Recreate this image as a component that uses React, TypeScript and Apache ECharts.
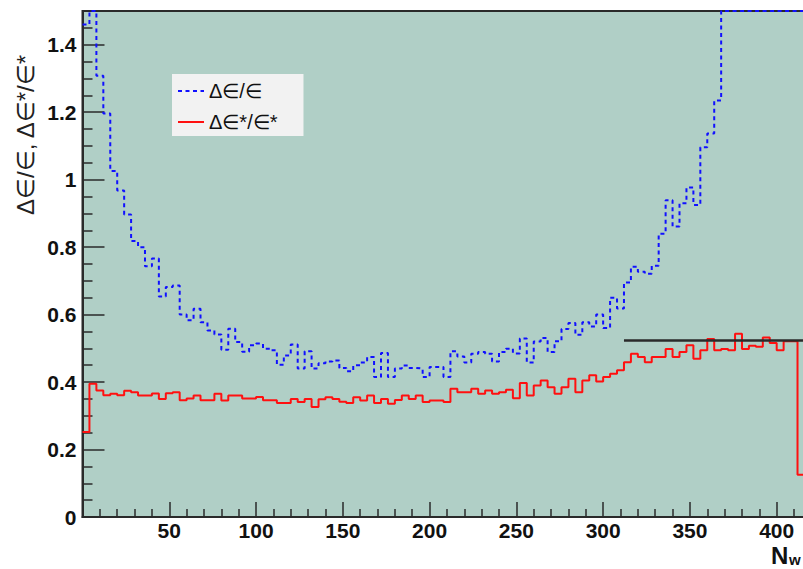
import React, { useEffect, useRef } from 'react';
import * as echarts from 'echarts';

// Histogram bins: width 4 in N_w, starting at 0 (104 bins, 0..416)
const binWidth = 4;

// Δϵ/ϵ (blue dashed) — values at or above 1.5 are clipped at the frame top
const blueValues = [
  1.46, 1.5, 1.308, 1.196, 1.026, 0.968, 0.897, 0.818, 0.8, 0.743,
  0.766, 0.654, 0.682, 0.686, 0.6, 0.583, 0.617, 0.577, 0.553, 0.541,
  0.496, 0.558, 0.519, 0.49, 0.509, 0.514, 0.499, 0.494, 0.451, 0.479,
  0.511, 0.44, 0.491, 0.44, 0.456, 0.461, 0.464, 0.442, 0.432, 0.45,
  0.458, 0.474, 0.415, 0.486, 0.415, 0.44, 0.449, 0.442, 0.44, 0.415,
  0.445, 0.445, 0.415, 0.491, 0.476, 0.458, 0.484, 0.489, 0.484, 0.461,
  0.489, 0.499, 0.485, 0.529, 0.458, 0.52, 0.531, 0.489, 0.521, 0.557,
  0.575, 0.54, 0.577, 0.565, 0.6, 0.56, 0.65, 0.618, 0.695, 0.742,
  0.727, 0.721, 0.745, 0.84, 0.939, 0.861, 0.93, 0.977, 0.925, 1.096,
  1.137, 1.235, 1.5, 1.5, 1.5, 1.5, 1.5, 1.5, 1.5, 1.5,
  1.5, 1.5, 1.5, 1.5,
];

// Δϵ*/ϵ* (red solid)
const redValues = [
  0.252, 0.395, 0.375, 0.361, 0.365, 0.361, 0.374, 0.37, 0.36, 0.36,
  0.366, 0.35, 0.367, 0.37, 0.346, 0.351, 0.36, 0.346, 0.346, 0.365,
  0.345, 0.36, 0.36, 0.351, 0.351, 0.356, 0.346, 0.346, 0.338, 0.338,
  0.35, 0.341, 0.35, 0.326, 0.349, 0.355, 0.35, 0.342, 0.338, 0.355,
  0.345, 0.36, 0.338, 0.35, 0.336, 0.347, 0.36, 0.35, 0.36, 0.341,
  0.345, 0.345, 0.341, 0.38, 0.37, 0.37, 0.38, 0.365, 0.375, 0.365,
  0.37, 0.377, 0.352, 0.397, 0.36, 0.39, 0.405, 0.385, 0.365, 0.385,
  0.41, 0.37, 0.405, 0.42, 0.402, 0.415, 0.425, 0.435, 0.459, 0.484,
  0.474, 0.459, 0.474, 0.474, 0.498, 0.474, 0.489, 0.509, 0.469, 0.494,
  0.528, 0.494, 0.498, 0.494, 0.543, 0.498, 0.508, 0.505, 0.532, 0.516,
  0.494, 0.521, 0.521, 0.125,
];

// Black reference line
const refLineX = [312, 416];
const refLineY = 0.523;

const xTickLabels = [50, 100, 150, 200, 250, 300, 350, 400];
const yTickLabels = [0, 0.2, 0.4, 0.6, 0.8, 1, 1.2, 1.4];

const seriesNames = ['Δ∈/∈', 'Δ∈*/∈*'];

function toSteps(values: number[]): number[][] {
  const pts = values.map((v, i) => [i * binWidth, v]);
  pts.push([values.length * binWidth, values[values.length - 1]]);
  return pts;
}

const xMinor: number[] = [];
for (let k = 1; k <= 41; k++) if (k % 5 !== 0) xMinor.push(k * 10);
const yMinor: number[] = [];
for (let k = 1; k <= 29; k++) if (k % 4 !== 0) yMinor.push(Math.round(k * 5) / 100);

const FONT = '"Liberation Sans", Arial, Helvetica, sans-serif';
const AX = '#2a2a2a';

export default function App() {
  const ref = useRef<HTMLDivElement>(null);
  useEffect(() => {
    if (!ref.current) return;
    const chart = echarts.init(ref.current, undefined, { renderer: 'svg' });
    const option: any = {
      animation: false,
      grid: {
        left: 82.5,
        top: 11,
        bottom: 52,
        right: 3.6,
        show: true,
        backgroundColor: '#b0cfc6',
        borderColor: AX,
        borderWidth: 2,
      },
      legend: {
        data: seriesNames,
        left: 172,
        top: 74,
        orient: 'vertical',
        backgroundColor: '#f2f2f2',
        padding: [6, 26, 3, 5],
        itemWidth: 26,
        itemHeight: 14,
        itemGap: 9,
        itemStyle: { opacity: 0 },
        textStyle: { fontSize: 20, fontFamily: FONT, color: '#111', lineHeight: 22 },
      },
      xAxis: [
        {
          type: 'value',
          min: 0,
          max: 420,
          axisLine: { show: true, lineStyle: { color: AX, width: 2 } },
          axisTick: {
            show: true,
            inside: true,
            length: 15,
            customValues: xTickLabels,
            lineStyle: { color: AX, width: 1.5 },
          },
          axisLabel: {
            customValues: xTickLabels,
            fontSize: 21,
            fontWeight: 'bold',
            fontFamily: FONT,
            color: '#111',
            margin: 3,
          },
          splitLine: { show: false },
        },
        {
          type: 'value',
          min: 0,
          max: 420,
          position: 'bottom',
          axisLine: { show: false },
          axisTick: {
            show: true,
            inside: true,
            length: 8,
            customValues: xMinor,
            lineStyle: { color: AX, width: 1.5 },
          },
          axisLabel: { show: false },
          splitLine: { show: false },
        },
      ],
      yAxis: [
        {
          type: 'value',
          min: 0,
          max: 1.5,
          position: 'left',
          axisLine: { show: true, lineStyle: { color: AX, width: 2 } },
          axisTick: {
            show: true,
            inside: true,
            length: 22,
            customValues: yTickLabels,
            lineStyle: { color: AX, width: 1.5 },
          },
          axisLabel: {
            customValues: yTickLabels,
            fontSize: 21,
            fontWeight: 'bold',
            fontFamily: FONT,
            color: '#111',
            margin: 6,
          },
          splitLine: { show: false },
        },
        {
          type: 'value',
          min: 0,
          max: 1.5,
          position: 'left',
          axisLine: { show: false },
          axisTick: {
            show: true,
            inside: true,
            length: 10,
            customValues: yMinor,
            lineStyle: { color: AX, width: 1.5 },
          },
          axisLabel: { show: false },
          splitLine: { show: false },
        },
      ],
      series: [
        {
          name: seriesNames[0],
          type: 'line',
          step: 'end',
          data: toSteps(blueValues),
          symbol: 'none',
          lineStyle: { color: '#1010ff', width: 2, type: [4, 3.5] },
          itemStyle: { color: '#1010ff' },
        },
        {
          name: seriesNames[1],
          type: 'line',
          step: 'end',
          data: toSteps(redValues),
          symbol: 'none',
          lineStyle: { color: '#ff1010', width: 2 },
          itemStyle: { color: '#ff1010' },
        },
        {
          name: 'ref',
          type: 'line',
          data: refLineX.map((x) => [x, refLineY]),
          symbol: 'none',
          lineStyle: { color: '#2a2a2a', width: 2.5 },
          silent: true,
        },
      ],
      graphic: [
        {
          type: 'text',
          x: 25,
          y: 215,
          rotation: Math.PI / 2,
          style: {
            text: 'Δ∈/∈, Δ∈*/∈*',
            fontSize: 24,
            fontFamily: FONT,
            fill: '#222',
            align: 'left',
            verticalAlign: 'middle',
          },
        },
        {
          type: 'text',
          x: 771,
          y: 555.5,
          style: {
            text: 'N',
            fontSize: 24,
            fontWeight: 'bold',
            fontFamily: FONT,
            fill: '#111',
            align: 'left',
            verticalAlign: 'middle',
          },
        },
        {
          type: 'text',
          x: 789,
          y: 559,
          style: {
            text: 'w',
            fontSize: 15,
            fontWeight: 'bold',
            fontFamily: FONT,
            fill: '#111',
            align: 'left',
            verticalAlign: 'middle',
          },
        },
      ],
    };
    chart.setOption(option);
    return () => chart.dispose();
  }, []);
  return (
    <div
      style={{
        position: 'fixed',
        left: 0,
        top: 0,
        width: 803,
        height: 569,
        overflow: 'hidden',
        background: '#fff',
      }}
    >
      <div ref={ref} style={{ width: 815, height: 569 }} />
    </div>
  );
}
